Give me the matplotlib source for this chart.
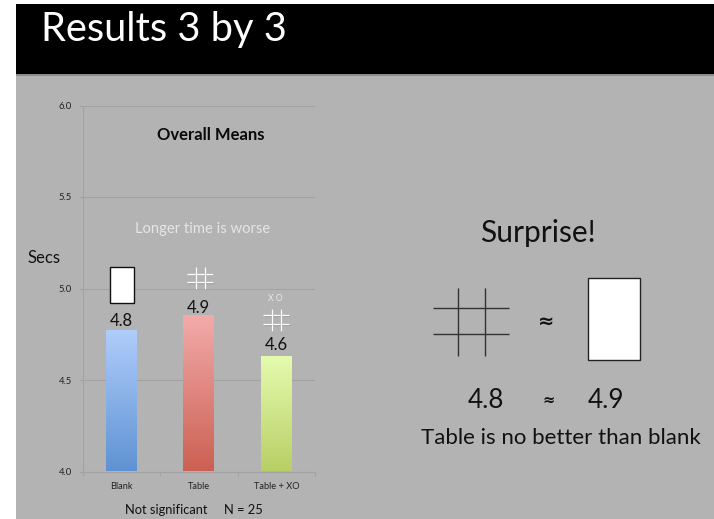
import matplotlib
matplotlib.use("Agg")
import matplotlib.pyplot as plt
import numpy as np
from matplotlib.patches import Rectangle
from matplotlib.colors import LinearSegmentedColormap

categories = ["Blank", "Table", "Table + XO"]
means = [4.77, 4.85, 4.625]
value_labels = ["4.8", "4.9", "4.6"]
label_gaps = [3.6, 2.0, 5.0]
bar_tops = ["#b0cdfb", "#f2abaa", "#e5fbae"]
bar_bottoms = ["#5f92d3", "#cc6052", "#b8cf66"]
y_ticks = [4.0, 4.5, 5.0, 5.5, 6.0]

W, H = 714, 519
plt.rcParams["font.family"] = ["Lato", "DejaVu Sans"]
fig = plt.figure(figsize=(W / 100, H / 100), dpi=100, facecolor="white")

# slide background in pixel coordinates
bg = fig.add_axes([0, 0, 1, 1], zorder=0)
bg.set_xlim(0, W)
bg.set_ylim(H, 0)
bg.axis("off")
bg.add_patch(Rectangle((16, 4), W - 16, H - 4, fc="#b3b3b3", ec="none"))
bg.add_patch(Rectangle((16, 74), W - 16, 2, fc="#8c8c8c", ec="none"))
bg.add_patch(Rectangle((16, 4), W - 16, 70, fc="black", ec="none"))
bg.text(41, 41.5, "Results 3 by 3", color="white", fontsize=28.7, va="baseline", ha="left")
bg.text(28, 263, "Secs", color="#111111", fontsize=12, va="baseline")
bg.text(211, 140, "Overall Means", color="#0a0a0a", fontsize=12, fontweight="bold", ha="center", va="baseline")
bg.text(202.5, 233, "Longer time is worse", color="#e6e6e6", fontsize=10.6, ha="center", va="baseline")
bg.text(125, 514, "Not significant", color="#111111", fontsize=9.3, ha="left", va="baseline")
bg.text(224, 514, "N = 25", color="#111111", fontsize=9.3, ha="left", va="baseline")
bg.text(275, 301, "X O", color="#e8e8e8", fontsize=6.2, ha="center", va="baseline")

# chart
L, R, T, B = 82.5, 315, 105.5, 471.5
ax = fig.add_axes([L / W, 1 - B / H, (R - L) / W, (B - T) / H], zorder=1)
ax.patch.set_alpha(0)
ax.set_xlim(0, 3)
ax.set_ylim(4, 6)
ax.set_yticks(y_ticks)
ax.set_yticklabels([f"{v:.1f}" for v in y_ticks], fontsize=6.8, color="#222222")
ax.set_xticks([0, 1, 2, 3])
ax.set_xticklabels([])
ax.tick_params(axis="both", length=3, width=0.8, color="#a2a2a2", pad=4.5)
ax.tick_params(axis="x", direction="out")
ax.grid(axis="y", color="#a2a2a2", lw=0.8)
ax.set_axisbelow(True)
for s in ["top", "right"]:
    ax.spines[s].set_visible(False)
for s in ["left", "bottom"]:
    ax.spines[s].set_color("#a2a2a2")
    ax.spines[s].set_linewidth(0.8)

xs = np.arange(3) + 0.5
grad = np.linspace(0, 1, 256).reshape(-1, 1)
width = 0.4
for x, m, ct, cb, cat, lab, gap in zip(xs, means, bar_tops, bar_bottoms, categories, value_labels, label_gaps):
    ax.bar(x, m - 4, bottom=4, width=width, color="none", edgecolor="none", zorder=3)
    cmap = LinearSegmentedColormap.from_list("b", [ct, cb])
    ax.imshow(grad, extent=[x - width / 2, x + width / 2, 4, m], cmap=cmap, aspect="auto", origin="upper", zorder=3)
    ax.text(x, 3.92, cat, fontsize=6.7, color="#222222", ha="center", va="center")
    ax.annotate(lab, (x, m), xytext=(0, gap), textcoords="offset points", fontsize=12, color="#111111", ha="center", va="baseline")
ax.set_xlim(0, 3)
ax.set_ylim(4, 6)


def grid_icon(x0, x1, y0, y1, color, lw, shadow=False):
    a, b = x0 + (x1 - x0) * 0.33, x0 + (x1 - x0) * 0.68
    c, d = y0 + (y1 - y0) * 0.30, y0 + (y1 - y0) * 0.68
    lines = [([x0, x1], [c, c]), ([x0, x1], [d, d]), ([a, a], [y0, y1]), ([b, b], [y0, y1])]
    for xx, yy in lines:
        if shadow:
            top.plot(np.add(xx, 0.5), np.add(yy, 0.8), color="#9a9a9a", lw=lw, solid_capstyle="butt")
        top.plot(xx, yy, color=color, lw=lw, solid_capstyle="butt")


# overlay drawings in pixel coordinates
top = fig.add_axes([0, 0, 1, 1], zorder=2)
top.set_xlim(0, W)
top.set_ylim(H, 0)
top.axis("off")
top.add_patch(Rectangle((109.5, 267), 24, 35.5, fc="white", ec="#111111", lw=1.0))
grid_icon(187, 213, 267, 289, "white", 0.9, True)
grid_icon(263, 289, 308.5, 331, "white", 0.9, True)
grid_icon(433, 509, 288, 356, "#333333", 1.0)
top.add_patch(Rectangle((587.5, 278), 52, 81.5, fc="white", ec="#222222", lw=1.0))
top.text(537.5, 242, "Surprise!", color="#111111", fontsize=21.6, ha="center", va="baseline")
top.text(546, 327, "≈", color="#111111", fontsize=14, ha="center", va="baseline", fontweight="bold", family=["DejaVu Sans"])
top.text(486, 408, "4.8", color="#111111", fontsize=18.7, ha="center", va="baseline")
top.text(549, 405, "≈", color="#111111", fontsize=10.5, ha="center", va="baseline", fontweight="bold", family=["DejaVu Sans"])
top.text(605.5, 408, "4.9", color="#111111", fontsize=18.7, ha="center", va="baseline")
top.text(560.5, 444, "Table is no better than blank", color="#111111", fontsize=16, ha="center", va="baseline")

fig.savefig("out.png", dpi=100)
